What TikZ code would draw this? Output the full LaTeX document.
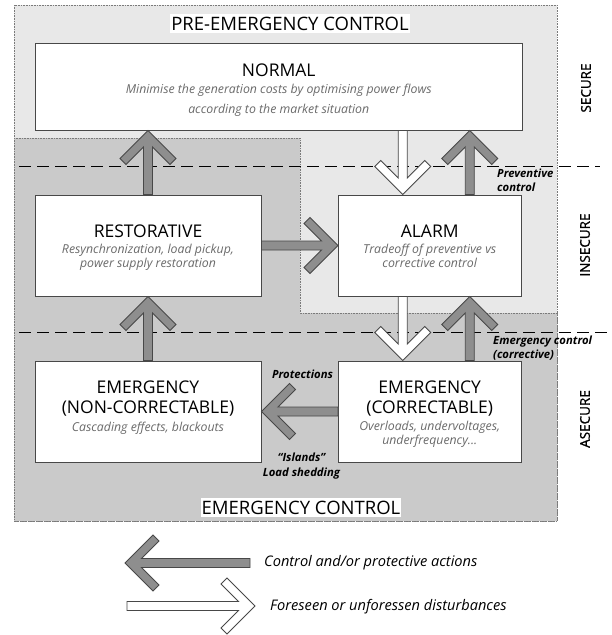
\documentclass[tikz,border=0pt]{standalone}
\usepackage{fontspec}
\setmainfont{Open Sans}
\newfontfamily\zonefont[FakeBold=1.3]{Open Sans}
\usetikzlibrary{calc}
\definecolor{lightbg}{HTML}{E8E8E8}
\definecolor{darkbg}{HTML}{CACACA}
\definecolor{edgegray}{HTML}{484848}
\definecolor{arrowgray}{HTML}{8E8E8E}
\definecolor{subgray}{HTML}{6A6A6A}
\definecolor{frameline}{HTML}{7A7A7A}
\begin{document}
\begin{tikzpicture}[x=1pt,y=-1pt,
  fatarrow/.style={draw=edgegray, line width=0.9pt, line join=miter,
    to path={(\tikztotarget)
    -- ($(\tikztotarget)!28pt!(\tikztostart)!28pt!-90:(\tikztostart)$)
    -- ($(\tikztotarget)!34pt!(\tikztostart)!22pt!-90:(\tikztostart)$)
    -- ($(\tikztotarget)!16.5pt!(\tikztostart)!4.5pt!-90:(\tikztostart)$)
    -- ($(\tikztostart)!4.5pt!90:(\tikztotarget)$)
    -- ($(\tikztostart)!4.5pt!-90:(\tikztotarget)$)
    -- ($(\tikztotarget)!16.5pt!(\tikztostart)!4.5pt!90:(\tikztostart)$)
    -- ($(\tikztotarget)!34pt!(\tikztostart)!22pt!90:(\tikztostart)$)
    -- ($(\tikztotarget)!28pt!(\tikztostart)!28pt!90:(\tikztostart)$)
    -- cycle}},
  ctrl/.style={fatarrow, fill=arrowgray},
  dist/.style={fatarrow, fill=white},
  statebox/.style={draw=edgegray, line width=1pt, fill=white, inner sep=0pt},
  title/.style={anchor=base, font=\fontsize{17.5}{20}\selectfont, inner sep=0pt},
  sub/.style={anchor=base, font=\fontsize{12.3}{14}\selectfont\itshape, text=subgray, inner sep=0pt},
  zonelabel/.style={anchor=center, font=\fontsize{13.5}{15}\zonefont, rotate=90, inner sep=0pt},
  note/.style={anchor=base, font=\fontsize{11.3}{13}\selectfont\bfseries\itshape, inner sep=0pt},
  region/.style={fill=#1, draw=frameline, densely dotted, line width=0.6pt},
  bigcap/.style={anchor=base, font=\fontsize{18.5}{21}\selectfont, fill=white, inner xsep=1pt, inner ysep=3pt},
  legend/.style={anchor=west, font=\fontsize{14.6}{17}\selectfont\itshape, inner sep=0pt},
  divider/.style={draw=black, line width=0.8pt, dash pattern=on 12pt off 6pt}
]
\useasboundingbox (0,0) rectangle (611,635);

% regions
\path[region=lightbg] (14,5) rectangle (557,521);
\path[region=darkbg] (14,138) -- (300,138) -- (300,313) -- (557,313) -- (557,521) -- (14,521) -- cycle;

% security divisions
\path[divider] (19,166) -- (600,166);
\path[divider] (19,332) -- (607,332);

% boxes
\node[statebox, minimum width=486.5pt, minimum height=86.5pt] (normal) at (278.75,86.75) {};
\node[statebox, minimum width=226pt, minimum height=101pt] (restor) at (148,245.5) {};
\node[statebox, minimum width=182.5pt, minimum height=101pt] (alarm) at (429.75,245.5) {};
\node[statebox, minimum width=226pt, minimum height=101pt] (emnc) at (148,411.5) {};
\node[statebox, minimum width=182.5pt, minimum height=101pt] (emc) at (429.75,411.5) {};

% box texts
\node[title] (normalT) at (278.75,76) {NORMAL};
\node[sub] (normalS1) at (278.75,93) {Minimise the generation costs by optimising power flows};
\node[sub] (normalS2) at (278.75,113) {according to the market situation};

\node[title] (restorT) at (148,237) {RESTORATIVE};
\node[sub] (restorS1) at (148,253.5) {Resynchronization, load pickup,};
\node[sub] (restorS2) at (148,267.5) {power supply restoration};

\node[title] (alarmT) at (429.75,237) {ALARM};
\node[sub] (alarmS1) at (429.75,253.5) {Tradeoff of preventive vs};
\node[sub] (alarmS2) at (429.75,267.5) {corrective control};

\node[title] (emncT1) at (148,393) {EMERGENCY};
\node[title] (emncT2) at (148,413) {(NON-CORRECTABLE)};
\node[sub] (emncS1) at (148,431) {Cascading effects, blackouts};

\node[title] (emcT1) at (429.75,393) {EMERGENCY};
\node[title] (emcT2) at (429.75,413) {(CORRECTABLE)};
\node[sub] (emcS1) at (429.75,430) {Overloads, undervoltages,};
\node[sub] (emcS2) at (429.75,444) {underfrequency...};

% connector end points
\coordinate (nA) at ($(normal.south -| alarm.north)+(-27,0)$);
\coordinate (aA) at ($(alarm.north)+(-27,0)$);
\coordinate (nB) at ($(normal.south -| alarm.north)+(40,0)$);
\coordinate (aB) at ($(alarm.north)+(40,0)$);
\coordinate (aC) at ($(alarm.south)+(-27,0)$);
\coordinate (eC) at ($(emc.north)+(-27,0)$);
\coordinate (aD) at ($(alarm.south)+(40,0)$);
\coordinate (eD) at ($(emc.north)+(40,0)$);
\coordinate (nR) at (restor.north |- normal.south);
\coordinate (rS) at (restor.south);
\coordinate (rN) at (restor.north);
\coordinate (eN) at (emnc.north);
\coordinate (rE) at (restor.east);
\coordinate (aW) at (restor.east -| alarm.west);
\coordinate (cW) at (emc.west);
\coordinate (nE) at (emc.west -| emnc.east);

% connectors
\draw[ctrl] (rN) to (nR);
\draw[dist] (nA) to (aA);
\draw[ctrl] (aB) to (nB);
\draw[ctrl] (rE) to (aW);
\draw[ctrl] (eN) to (rS);
\draw[dist] (aC) to (eC);
\draw[ctrl] (eD) to (aD);
\draw[ctrl] (cW) to (nE);

% control region captions
\node[bigcap] (preT) at (290,30) {PRE-EMERGENCY CONTROL};
\node[bigcap] (emT) at (301,514) {EMERGENCY CONTROL};

% notes
\node[note, anchor=base west] (prev1) at (497,177) {Preventive};
\node[note, anchor=base west] (prev2) at (497,191) {control};
\node[note, anchor=base west] (emctl1) at (493,344) {Emergency control};
\node[note, anchor=base west] (emctl2) at (493,358) {(corrective)};
\node[note] (prot) at (302.5,378) {Protections};
\node[note] (isl) at (301.5,461.5) {``Islands''};
\node[note] (shed) at (301.5,476.5) {Load shedding};

% zone labels
\node[zonelabel] (zsec) at (586,88) {SECURE};
\node[zonelabel] (zins) at (585,245) {INSECURE};
\node[zonelabel] (zase) at (585,419) {ASECURE};

% legend
\coordinate (lg1s) at (250,563);
\coordinate (lg1e) at (125,563);
\coordinate (lg2s) at (127,606);
\coordinate (lg2e) at (255,606);
\draw[ctrl] (lg1s) to (lg1e);
\draw[dist] (lg2s) to (lg2e);
\node[legend] (lgt1) at (264,563) {Control and/or protective actions};
\node[legend] (lgt2) at (270,607) {Foreseen or unforessen disturbances};
\end{tikzpicture}
\end{document}
